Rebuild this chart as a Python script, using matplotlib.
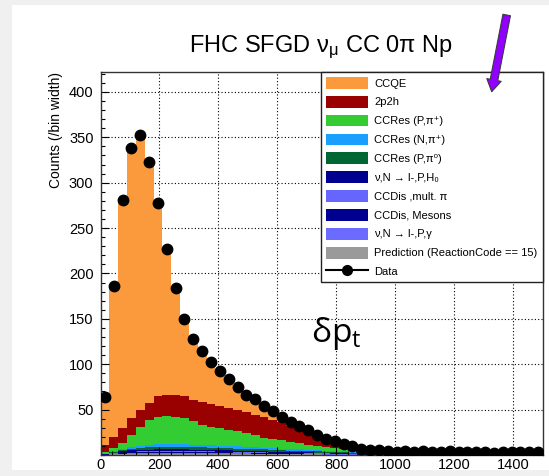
import numpy as np
import matplotlib
matplotlib.use('Agg')
import matplotlib.pyplot as plt
from matplotlib.patches import Patch, Rectangle, FancyArrowPatch
from matplotlib.lines import Line2D
from matplotlib.ticker import MultipleLocator

plt.rcParams['font.family'] = ['Liberation Sans', 'DejaVu Sans']
plt.rcParams['mathtext.default'] = 'regular'

# delta p_t, 30 MeV bins from 0 to 1500
bin_edges = np.arange(0, 1501, 30)
bin_centers = bin_edges[:-1] + 15

data = [64, 186, 281, 338, 353, 323, 278, 227, 184, 150,
        128, 115, 102, 93, 84, 74.5, 66, 62, 54, 48,
        42, 36, 32, 27, 22, 18, 15, 12, 9.5, 7,
        5.5, 5, 4, 3.5, 4, 3, 4, 3.5, 3, 4,
        3.5, 3, 3.5, 3, 2.5, 3, 3.5, 3, 3.5, 3]

ccqe = [49, 165, 250.5, 297.5, 301, 265, 212.5, 159.5, 115.5, 84.5,
        65, 54, 44, 36.5, 29.5, 22.5, 17, 14, 10.5, 7.5,
        4, 3, 2, 1.5, 1, 0.5, 0.5, 0.5, 0.5, 0.5,
        0.5, 0.5, 0.5, 0.5, 1.5, 1.5, 1.5, 1.5, 1.5, 1.5,
        1.5, 1.5, 1.5, 1.5, 1.5, 1.5, 1.5, 1.5, 1.5, 1.5]

twop2h = [7.5, 12.5, 16.5, 18.5, 19, 18.5, 22.5, 23, 24.5, 24,
          24, 25, 25, 24, 24, 23.5, 23, 22.5, 22.5, 21,
          20, 17.5, 15, 12.5, 10.5, 8.5, 6.5, 4.5, 3, 2,
          1.5, 1, 0.5, 0.5, 0.3, 0.2, 0.2, 0.1, 0.1, 0.1,
          0, 0, 0, 0, 0, 0, 0, 0, 0, 0]

res_p_pip = [2, 3.4, 6.4, 13.3, 20.9, 27.4, 30.4, 31.5, 30, 28.6,
             25.5, 22, 20.3, 19.2, 17.7, 16.6, 15.1, 13.1, 10.9, 10,
             8.9, 7.9, 6.8, 5.8, 4.7, 3.7, 3, 2.5, 2, 1.3,
             1, 0.7, 0.5, 0.3, 0.2, 0.1, 0.1, 0, 0, 0,
             0, 0, 0, 0, 0, 0, 0, 0, 0, 0]

res_n_pip = [0.3, 0.8, 1.4, 1.9, 2.3, 2.6, 2.8, 2.9, 2.9, 2.9,
             2.8, 2.7, 2.6, 2.5, 2.4, 2.3, 2.2, 2.1, 2.0, 1.9,
             1.8, 1.7, 1.6, 1.5, 1.4, 1.3, 1.2, 1.1, 1.0, 0.9,
             0.8, 0.7, 0.6, 0.5, 0.4, 0.3, 0.3, 0.2, 0.2, 0.1,
             0, 0, 0, 0, 0, 0, 0, 0, 0, 0]

res_p_pi0 = [0.3, 0.8, 1.3, 1.8, 2.2, 2.5, 2.7, 2.8, 2.8, 2.8,
             2.7, 2.6, 2.5, 2.4, 2.3, 2.2, 2.1, 2.0, 1.9, 1.8,
             1.7, 1.6, 1.5, 1.4, 1.3, 1.2, 1.1, 1.0, 0.9, 0.8,
             0.7, 0.6, 0.5, 0.4, 0.3, 0.3, 0.2, 0.2, 0.1, 0.1,
             0, 0, 0, 0, 0, 0, 0, 0, 0, 0]

nc_h0 = [0.3, 0.8, 1.2, 1.5, 1.7, 1.8, 1.9, 1.9, 1.9, 1.8,
         1.8, 1.7, 1.6, 1.6, 1.5, 1.4, 1.3, 1.2, 1.2, 1.1,
         1.0, 0.9, 0.8, 0.8, 0.7, 0.6, 0.6, 0.5, 0.4, 0.4,
         0.3, 0.3, 0.2, 0.2, 0.1, 0, 0, 0, 0, 0,
         0, 0, 0, 0, 0, 0, 0, 0, 0, 0]

dis_mpi = [0.1, 0.3, 0.5, 0.7, 0.8, 0.9, 0.9, 1.0, 1.0, 1.0,
           1.0, 0.9, 0.9, 0.9, 0.8, 0.8, 0.8, 0.7, 0.7, 0.6,
           0.6, 0.6, 0.5, 0.5, 0.4, 0.4, 0.4, 0.3, 0.3, 0.3,
           0.2, 0.2, 0.2, 0.1, 0.1, 0, 0, 0, 0, 0,
           0, 0, 0, 0, 0, 0, 0, 0, 0, 0]

dis_mesons = [0.1, 0.3, 0.6, 0.8, 0.9, 1.0, 1.0, 1.1, 1.1, 1.1,
              1.1, 1.0, 1.0, 1.0, 0.9, 0.9, 0.8, 0.8, 0.8, 0.7,
              0.7, 0.6, 0.6, 0.5, 0.5, 0.5, 0.4, 0.4, 0.3, 0.3,
              0.3, 0.2, 0.2, 0.2, 0.1, 0.1, 0, 0, 0, 0,
              0, 0, 0, 0, 0, 0, 0, 0, 0, 0]

gamma = [0.2, 0.5, 0.7, 0.9, 1.0, 1.0, 1.0, 1.0, 1.0, 1.0,
         0.9, 0.9, 0.9, 0.8, 0.8, 0.8, 0.7, 0.7, 0.6, 0.6,
         0.5, 0.5, 0.5, 0.4, 0.4, 0.3, 0.3, 0.3, 0.2, 0.2,
         0.2, 0.1, 0.1, 0.1, 0.1, 0, 0, 0, 0, 0,
         0, 0, 0, 0, 0, 0, 0, 0, 0, 0]

pred15 = [0.3, 0.6, 0.9, 1.1, 1.2, 1.3, 1.3, 1.3, 1.3, 1.3,
          1.2, 1.2, 1.2, 1.1, 1.1, 1.0, 1.0, 0.9, 0.9, 0.8,
          0.8, 0.7, 0.7, 0.6, 0.6, 0.5, 0.5, 0.4, 0.4, 0.3,
          0.3, 0.3, 0.2, 0.2, 0.2, 0.2, 0.1, 0.1, 0.1, 0.1,
          0.1, 0.1, 0.1, 0.1, 0.1, 0.1, 0.1, 0.1, 0.1, 0.1]

labels = ['CCQE', '2p2h', 'CCRes (P,π⁺)', 'CCRes (N,π⁺)', 'CCRes (P,π⁰)',
          'ν,N → l-,P,H₀', 'CCDis ,mult. π', 'CCDis, Mesons', 'ν,N → l-,P,γ',
          'Prediction (ReactionCode == 15)']
colors = ['#fa9a3c', '#990000', '#33cc33', '#1a9fff', '#006633',
          '#000090', '#6666ff', '#000090', '#6b6bff', '#9a9a9a']
series = [ccqe, twop2h, res_p_pip, res_n_pip, res_p_pi0,
          nc_h0, dis_mpi, dis_mesons, gamma, pred15]

fig = plt.figure(figsize=(5.49, 4.76), dpi=100)
ax = fig.add_axes([100.5 / 549, 21 / 476, 442 / 549, 383 / 476])

xticks = [0, 200, 400, 600, 800, 1000, 1200, 1400]
yticks = [50, 100, 150, 200, 250, 300, 350, 400]
for y in yticks:
    ax.axhline(y, color='k', lw=0.8, ls=(0, (1, 2)), zorder=0.5)
for x in xticks[1:]:
    ax.axvline(x, color='k', lw=0.8, ls=(0, (1, 2)), zorder=0.5)

# stack from the bottom (last legend entry) up to CCQE
base = np.zeros(len(bin_centers))
for vals, col in zip(series[::-1], colors[::-1]):
    top = base + np.array(vals)
    ax.stairs(top, bin_edges, baseline=base, fill=True, color=col, lw=0, zorder=1)
    base = top

ax.errorbar(bin_centers, data, xerr=15, fmt='o', color='k', ms=7.5,
            elinewidth=1.2, capsize=0, zorder=3)

ax.set_xlim(0, 1500)
ax.set_ylim(0, 422)
ax.set_xticks(xticks)
ax.set_yticks(yticks)
ax.yaxis.set_minor_locator(MultipleLocator(10))
ax.xaxis.set_minor_locator(MultipleLocator(40))
ax.tick_params(which='both', direction='in', top=False, right=False, width=0.8)
ax.tick_params(which='major', length=6)
ax.tick_params(which='minor', length=3)
ax.tick_params(axis='y', labelsize=10.5, pad=5)
ax.tick_params(axis='x', labelsize=10.5, pad=2)
for s in ax.spines.values():
    s.set_color('#333333')
    s.set_linewidth(1)

ax.set_ylabel('Counts (/bin width)', loc='top', fontsize=10)
ax.yaxis.set_label_coords(-0.085, 1.0)

handles = [Patch(facecolor=c, edgecolor='none') for c in colors]
handles.append(Line2D([], [], color='k', marker='o', ms=7, lw=1.5))
leg = ax.legend(handles, labels + ['Data'], loc='upper right', bbox_to_anchor=(1, 1),
                borderaxespad=0, fontsize=8, handlelength=3.7, handleheight=1.25,
                labelspacing=0.64, handletextpad=0.6, borderpad=0.45,
                fancybox=False, framealpha=1, edgecolor='#222222')
leg.get_frame().set_linewidth(1)
leg.set_zorder(5)

fig.text(321 / 549, 1 - 52.5 / 476, r'FHC SFGD $\nu_{\mu}$ CC 0$\pi$ Np',
         fontsize=17, ha='center', va='baseline')
fig.text(311 / 549, 1 - 341.7 / 476, r'$\delta p_{t}$', fontsize=24,
         ha='left', va='baseline', family=['Open Sans', 'DejaVu Sans'])

arr = FancyArrowPatch((506.7 / 549, 1 - 15 / 476), (491.7 / 549, 1 - 91.7 / 476),
                      transform=fig.transFigure,
                      arrowstyle='simple,head_width=1.05,head_length=0.86,tail_width=0.55',
                      mutation_scale=10, fc='#9100ff', ec='#3a3a3a', lw=0.8,
                      shrinkA=0, shrinkB=0, zorder=20)
fig.add_artist(arr)

# light grey screenshot border
for r in [(0, 0, 12 / 549, 1), (0, 1 - 5 / 476, 1, 5 / 476), (0, 0, 1, 6 / 476)]:
    fig.add_artist(Rectangle(r[:2], r[2], r[3], transform=fig.transFigure,
                             fc='#f0f0f0', ec='none', zorder=15))

fig.savefig('out.png', dpi=100)
